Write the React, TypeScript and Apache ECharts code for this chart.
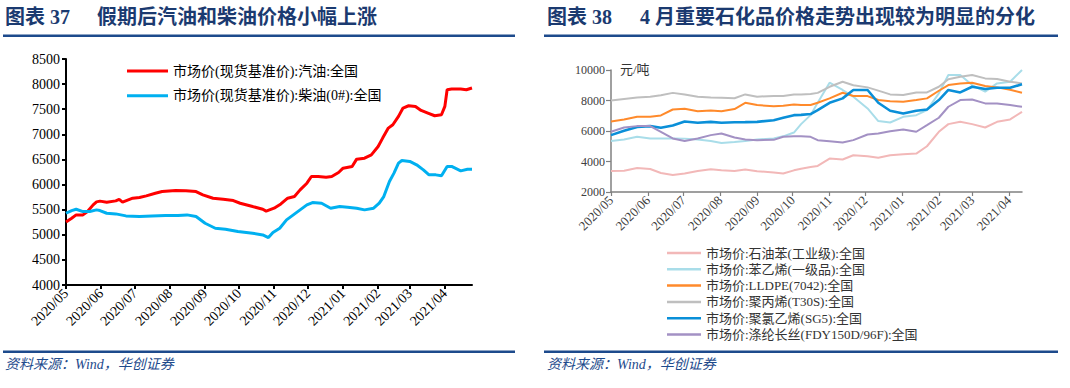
import React, { useEffect, useRef } from 'react';
import * as echarts from 'echarts';

// ---------- Left chart data ----------
const leftNames = ['市场价(现货基准价):汽油:全国', '市场价(现货基准价):柴油(0#):全国'];
const leftStart = '2020-05-01';
const leftEnd = '2021-04-25';

const gasoline: [string, number][] = [
  ['2020-05-01', 5255], ['2020-05-06', 5330], ['2020-05-10', 5396], ['2020-05-16', 5396],
  ['2020-05-20', 5462], ['2020-05-25', 5595], ['2020-05-28', 5655], ['2020-05-31', 5670],
  ['2020-06-06', 5648], ['2020-06-14', 5675], ['2020-06-17', 5705], ['2020-06-20', 5650],
  ['2020-06-29', 5728], ['2020-07-05', 5741], ['2020-07-11', 5775], ['2020-07-19', 5828],
  ['2020-07-25', 5861], ['2020-08-06', 5881], ['2020-08-15', 5875], ['2020-08-24', 5861],
  ['2020-08-30', 5795], ['2020-09-08', 5728], ['2020-09-17', 5708], ['2020-09-26', 5682],
  ['2020-10-02', 5628], ['2020-10-13', 5562], ['2020-10-22', 5509], ['2020-10-25', 5470],
  ['2020-11-01', 5529], ['2020-11-07', 5615], ['2020-11-13', 5728], ['2020-11-19', 5761],
  ['2020-11-24', 5894], ['2020-11-30', 6027], ['2020-12-04', 6160], ['2020-12-10', 6160],
  ['2020-12-17', 6147], ['2020-12-22', 6160], ['2020-12-28', 6240], ['2021-01-01', 6326],
  ['2021-01-09', 6360], ['2021-01-13', 6506], ['2021-01-20', 6526], ['2021-01-26', 6592],
  ['2021-02-01', 6758], ['2021-02-05', 6925], ['2021-02-10', 7124], ['2021-02-14', 7191],
  ['2021-02-19', 7357], ['2021-02-23', 7523], ['2021-02-28', 7569], ['2021-03-06', 7556],
  ['2021-03-11', 7476], ['2021-03-17', 7423], ['2021-03-23', 7370], ['2021-03-29', 7390],
  ['2021-04-01', 7556], ['2021-04-03', 7888], ['2021-04-07', 7902], ['2021-04-15', 7902],
  ['2021-04-20', 7888], ['2021-04-25', 7922],
];

const diesel: [string, number][] = [
  ['2020-05-01', 5429], ['2020-05-06', 5482], ['2020-05-10', 5509], ['2020-05-16', 5462],
  ['2020-05-22', 5462], ['2020-05-28', 5496], ['2020-05-31', 5482], ['2020-06-06', 5429],
  ['2020-06-14', 5416], ['2020-06-23', 5376], ['2020-07-05', 5363], ['2020-07-16', 5376],
  ['2020-07-28', 5383], ['2020-08-08', 5383], ['2020-08-16', 5396], ['2020-08-24', 5363],
  ['2020-09-01', 5230], ['2020-09-10', 5130], ['2020-09-19', 5110], ['2020-09-30', 5064],
  ['2020-10-13', 5030], ['2020-10-22', 4997], ['2020-10-27', 4945], ['2020-10-31', 5044],
  ['2020-11-06', 5130], ['2020-11-12', 5296], ['2020-11-18', 5396], ['2020-11-24', 5496],
  ['2020-11-30', 5595], ['2020-12-05', 5642], ['2020-12-13', 5629], ['2020-12-21', 5529],
  ['2020-12-29', 5562], ['2021-01-05', 5549], ['2021-01-13', 5529], ['2021-01-20', 5496],
  ['2021-01-28', 5529], ['2021-02-02', 5629], ['2021-02-06', 5761], ['2021-02-11', 6061],
  ['2021-02-15', 6227], ['2021-02-19', 6426], ['2021-02-22', 6479], ['2021-03-01', 6460],
  ['2021-03-07', 6393], ['2021-03-13', 6293], ['2021-03-18', 6193], ['2021-03-24', 6193],
  ['2021-03-29', 6174], ['2021-04-03', 6360], ['2021-04-07', 6360], ['2021-04-15', 6273],
  ['2021-04-21', 6306], ['2021-04-25', 6306],
];

// ---------- Right chart data ----------
const rightNames = [
  '市场价:石油苯(工业级):全国',
  '市场价:苯乙烯(一级品):全国',
  '市场价:LLDPE(7042):全国',
  '市场价:聚丙烯(T30S):全国',
  '市场价:聚氯乙烯(SG5):全国',
  '市场价:涤纶长丝(FDY150D/96F):全国',
];
const rightStart = '2020-05-01';
const rightEnd = '2021-04-12';
const rightDates = [
  '2020-05-01', '2020-05-12', '2020-05-23', '2020-06-03', '2020-06-12', '2020-06-22',
  '2020-07-02', '2020-07-13', '2020-07-24', '2020-08-02', '2020-08-13', '2020-08-22',
  '2020-09-01', '2020-09-15', '2020-09-23', '2020-10-02', '2020-10-08', '2020-10-16',
  '2020-10-22', '2020-11-01', '2020-11-12', '2020-11-21', '2020-12-03', '2020-12-12',
  '2020-12-22', '2021-01-02', '2021-01-13', '2021-01-22', '2021-02-01', '2021-02-09',
  '2021-02-19', '2021-03-01', '2021-03-12', '2021-03-22', '2021-04-02', '2021-04-12',
];
const benzene = [
  3380, 3400, 3580, 3510, 3250, 3120, 3210, 3380, 3490, 3420, 3380, 3470,
  3360, 3280, 3210, 3420, 3530, 3640, 3710, 4190, 4130, 4410, 4350, 4240,
  4410, 4480, 4520, 5000, 5950, 6450, 6600, 6450, 6230, 6600, 6760, 7260,
];
const styrene = [
  5350, 5440, 5620, 5510, 5510, 5510, 5500, 5440, 5350, 5220, 5280, 5350,
  5440, 5510, 5650, 5900, 6450, 7040, 7850, 9170, 8690, 8250, 7480, 6650,
  6560, 6930, 7040, 7370, 8470, 9670, 9670, 9010, 8580, 9120, 9230, 10000,
];
const lldpe = [
  6625, 6750, 6930, 6930, 7020, 7410, 7460, 7300, 7350, 7300, 7440, 7850,
  7700, 7630, 7650, 7740, 7700, 7700, 7850, 8140, 8510, 8290, 8290, 8030,
  7950, 7920, 8030, 8140, 8640, 9010, 9120, 9170, 8950, 8860, 8700, 8510,
];
const pp = [
  8000, 8100, 8200, 8250, 8350, 8500, 8400, 8250, 8200, 8180, 8150, 8400,
  8250, 8300, 8300, 8400, 8400, 8420, 8500, 8900, 9230, 9000, 8860, 8650,
  8400, 8360, 8530, 8530, 8900, 9390, 9560, 9670, 9450, 9410, 9230, 9120,
];
const pvc = [
  5730, 6010, 6270, 6320, 6210, 6360, 6625, 6540, 6600, 6540, 6570, 6580,
  6600, 6710, 6870, 7040, 7060, 7110, 7370, 7850, 8140, 8690, 8690, 7850,
  7330, 7150, 7330, 7410, 8030, 8690, 8530, 8900, 8750, 8840, 8840, 9060,
];
const polyester = [
  5950, 6230, 6320, 6320, 5950, 5510, 5350, 5510, 5730, 5840, 5570, 5440,
  5400, 5420, 5620, 5660, 5660, 5620, 5400, 5330, 5240, 5400, 5770, 5840,
  5990, 6100, 5950, 6380, 6870, 7590, 8030, 8070, 7810, 7810, 7700, 7590,
];
const rightColors = ['#F2B8B8', '#A9DDE9', '#FF8A2B', '#BFBFBF', '#0A8FD8', '#A391C4'];
const rightWidths = [2, 2, 2, 2, 2.6, 2];

const SERIF = "'Liberation Serif', 'Times New Roman', 'Noto Sans CJK SC', serif";
const NAVY = '#1B3A70';
const LINE_BLUE = '#1D4A8C';

function dayRange(a: string, b: string): string[] {
  const out: string[] = [];
  const [ya, ma, da] = a.split('-').map(Number);
  const [yb, mb, db] = b.split('-').map(Number);
  let t = Date.UTC(ya, ma - 1, da);
  const end = Date.UTC(yb, mb - 1, db);
  while (t <= end) {
    const d = new Date(t);
    const s = d.getUTCFullYear() + '-' + String(d.getUTCMonth() + 1).padStart(2, '0') + '-' + String(d.getUTCDate()).padStart(2, '0');
    out.push(s);
    t += 86400000;
  }
  return out;
}

const isMonthStart = (_i: number, v: string) => v.endsWith('-01');
const monthLabel = (v: string) => v.slice(0, 4) + '/' + v.slice(5, 7);
const plain = (v: number) => String(v);

export default function App() {
  const ref = useRef<HTMLDivElement>(null);
  useEffect(() => {
    document.body.style.margin = '0';
    if (!ref.current) return;
    const chart = echarts.init(ref.current, undefined, { renderer: 'svg' });
    const leftDays = dayRange(leftStart, leftEnd);
    const rightDays = dayRange(rightStart, rightEnd);
    const rightSeriesVals = [benzene, styrene, lldpe, pp, pvc, polyester];

    const option: any = {
      animation: false,
      grid: [
        { left: 66, top: 59, width: 406, height: 226 },
        { left: 611, top: 70, width: 411, height: 122 },
      ],
      legend: [
        {
          data: leftNames, orient: 'vertical', left: 122, top: 59, icon: 'rect',
          itemWidth: 41, itemHeight: 3, itemGap: 10.7,
          textStyle: { fontFamily: SERIF, fontSize: 14, lineHeight: 14, color: '#000' },
        },
        {
          data: rightNames, orient: 'vertical', left: 662, top: 241.5, icon: 'rect',
          itemWidth: 34, itemHeight: 2.5, itemGap: 3.3,
          textStyle: { fontFamily: SERIF, fontSize: 13, lineHeight: 13, color: '#333' },
        },
      ],
      xAxis: [
        {
          gridIndex: 0, type: 'category', data: leftDays, boundaryGap: false,
          axisLine: { lineStyle: { color: '#000', width: 2 } },
          axisTick: { interval: isMonthStart, length: 4, lineStyle: { color: '#000', width: 2 } },
          axisLabel: { interval: isMonthStart, rotate: 45, formatter: monthLabel, fontFamily: SERIF, fontSize: 14, color: '#000', margin: 6 },
          splitLine: { show: false },
        },
        {
          gridIndex: 1, type: 'category', data: rightDays, boundaryGap: false,
          axisLine: { lineStyle: { color: '#808080', width: 1.5 } },
          axisTick: { interval: isMonthStart, length: 4, lineStyle: { color: '#808080', width: 1.2 } },
          axisLabel: { interval: isMonthStart, rotate: 45, formatter: monthLabel, fontFamily: SERIF, fontSize: 13, color: '#404040', margin: 6 },
          splitLine: { show: false },
        },
      ],
      yAxis: [
        {
          gridIndex: 0, type: 'value', min: 4000, max: 8500, interval: 500,
          axisLine: { show: true, lineStyle: { color: '#000', width: 2 } },
          axisTick: { show: true, length: 4, lineStyle: { color: '#000', width: 2 } },
          axisLabel: { formatter: plain, fontFamily: SERIF, fontSize: 14, color: '#000', margin: 6 },
          splitLine: { show: false },
        },
        {
          gridIndex: 1, type: 'value', min: 2000, max: 10000, interval: 2000,
          axisLine: { show: true, lineStyle: { color: '#808080', width: 1.5 } },
          axisTick: { show: true, length: 5, lineStyle: { color: '#808080', width: 1.2 } },
          axisLabel: { formatter: plain, fontFamily: SERIF, fontSize: 12, color: '#404040', margin: 6 },
          splitLine: { show: false },
        },
      ],
      series: [
        {
          name: leftNames[0], type: 'line', xAxisIndex: 0, yAxisIndex: 0, data: gasoline,
          symbol: 'none', color: '#FF0000', lineStyle: { width: 3, color: '#FF0000' },
        },
        {
          name: leftNames[1], type: 'line', xAxisIndex: 0, yAxisIndex: 0, data: diesel,
          symbol: 'none', color: '#00B0F0', lineStyle: { width: 3, color: '#00B0F0' },
        },
        ...rightNames.map((n, k) => ({
          name: n, type: 'line', xAxisIndex: 1, yAxisIndex: 1,
          data: rightDates.map((d, i) => [d, rightSeriesVals[k][i]]),
          symbol: 'none', color: rightColors[k],
          lineStyle: { width: rightWidths[k], color: rightColors[k] },
        })),
      ],
      graphic: [
        { type: 'text', left: 5, top: 7, style: { text: '图表 37', font: `bold 20px ${SERIF}`, fill: NAVY } },
        { type: 'text', left: 97, top: 7, style: { text: '假期后汽油和柴油价格小幅上涨', font: `bold 20px ${SERIF}`, fill: NAVY } },
        { type: 'rect', shape: { x: 3, y: 34.5, width: 512, height: 2.5 }, style: { fill: LINE_BLUE } },
        { type: 'text', left: 547, top: 7, style: { text: '图表 38', font: `bold 20px ${SERIF}`, fill: NAVY } },
        { type: 'text', left: 640, top: 7, style: { text: '4 月重要石化品价格走势出现较为明显的分化', font: `bold 20px ${SERIF}`, fill: NAVY } },
        { type: 'rect', shape: { x: 544, y: 34.5, width: 514, height: 2.5 }, style: { fill: LINE_BLUE } },
        { type: 'text', left: 620, top: 63, style: { text: '元/吨', font: `13px ${SERIF}`, fill: '#333' } },
        { type: 'rect', shape: { x: 3, y: 350.5, width: 512, height: 2.5 }, style: { fill: LINE_BLUE } },
        { type: 'rect', shape: { x: 544, y: 350.5, width: 514, height: 2.5 }, style: { fill: LINE_BLUE } },
        { type: 'text', left: 5, top: 357, style: { text: '资料来源：Wind，华创证券', font: `italic 14px ${SERIF}`, fill: LINE_BLUE } },
        { type: 'text', left: 547, top: 357, style: { text: '资料来源：Wind，华创证券', font: `italic 14px ${SERIF}`, fill: LINE_BLUE } },
      ],
    };
    chart.setOption(option);
    return () => chart.dispose();
  }, []);
  return <div ref={ref} style={{ width: 1070, height: 388 }} />;
}
